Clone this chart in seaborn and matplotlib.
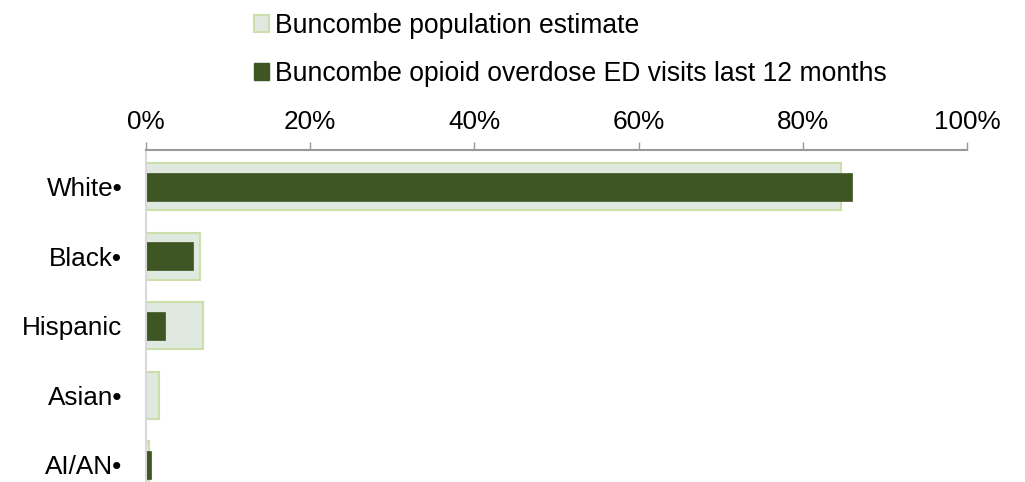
import pandas as pd
import matplotlib.pyplot as plt
import seaborn as sns
from matplotlib.patches import Patch
from matplotlib.ticker import PercentFormatter

groups = ['White\u2022', 'Black\u2022', 'Hispanic', 'Asian\u2022', 'AI/AN\u2022']
population = [84.7, 6.6, 6.9, 1.6, 0.4]
ed_visits = [86.0, 5.7, 2.3, 0.0, 0.6]

pop_label = 'Buncombe population estimate'
ed_label = 'Buncombe opioid overdose ED visits last 12 months'

pop_fill = '#E0E9DF'
pop_edge = '#CCDFAA'
ed_fill = '#3E5623'

sns.set_style('white')
plt.rcParams['font.family'] = ['Liberation Sans', 'DejaVu Sans']
plt.rcParams['text.color'] = 'black'

df = pd.DataFrame({'group': groups, 'pop': population, 'ed': ed_visits})

fig = plt.figure(figsize=(10.25, 4.82), dpi=100)
ax = fig.add_axes([0.1424, 0.0, 0.8010, 0.6888])

sns.barplot(data=df, y='group', x='pop', orient='h', width=0.68,
            color=pop_fill, edgecolor=pop_edge, linewidth=1.5, saturation=1, ax=ax)
sns.barplot(data=df, y='group', x='ed', orient='h', width=0.40,
            color=ed_fill, edgecolor=ed_fill, linewidth=0.5, saturation=1, ax=ax)

ax.set_xlim(0, 100)
ax.set_ylim(4.25, -0.53)
ax.xaxis.set_major_formatter(PercentFormatter(decimals=0))
ax.set_xticks([0, 20, 40, 60, 80, 100])
ax.xaxis.tick_top()
ax.set_xlabel('')
ax.set_ylabel('')
ax.tick_params(axis='x', direction='out', length=6, width=1, color='#999999',
               labelsize=18.8, pad=5.5, top=True, bottom=False, labelcolor='black')
ax.tick_params(axis='y', length=0, labelsize=18.8, pad=17, labelcolor='black')

for side in ['right', 'bottom']:
    ax.spines[side].set_visible(False)
ax.spines['top'].set_color('#999999')
ax.spines['top'].set_linewidth(1.5)
ax.spines['left'].set_color('#D9D9D9')
ax.spines['left'].set_linewidth(1.5)

handles = [Patch(facecolor=pop_fill, edgecolor=pop_edge, linewidth=1.5, label=pop_label),
           Patch(facecolor=ed_fill, edgecolor=ed_fill, label=ed_label)]
fig.legend(handles=handles, loc='upper left', bbox_to_anchor=(0.237, 0.996),
           frameon=False, fontsize=19.1, handlelength=0.6, handleheight=0.6,
           handletextpad=0.2, labelspacing=0.84, borderaxespad=0)

fig.savefig('out.png', dpi=100)
